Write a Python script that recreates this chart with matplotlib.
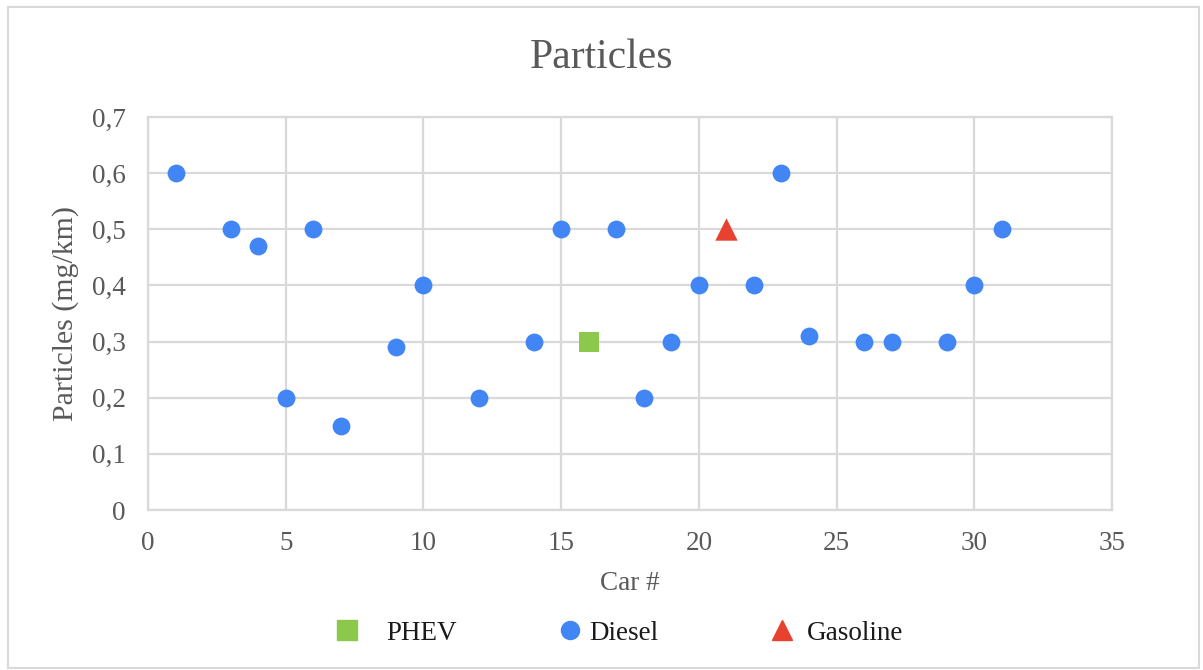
import matplotlib
matplotlib.use("Agg")
import matplotlib.pyplot as plt
from matplotlib.lines import Line2D
from matplotlib.patches import Rectangle

plt.rcParams['font.family'] = ['Liberation Serif', 'DejaVu Serif']

# Emission measurements per car
diesel_car = [1, 3, 4, 5, 6, 7, 9, 10, 12, 14, 15, 17, 18, 19, 20, 22, 23, 24, 26, 27, 29, 30, 31]
diesel_pm = [0.6, 0.5, 0.47, 0.2, 0.5, 0.15, 0.29, 0.4, 0.2, 0.3, 0.5, 0.5, 0.2, 0.3, 0.4, 0.4, 0.6, 0.31,
             0.3, 0.3, 0.3, 0.4, 0.5]
phev_car = [16]
phev_pm = [0.3]
gasoline_car = [21]
gasoline_pm = [0.5]

x_ticks = [0, 5, 10, 15, 20, 25, 30, 35]
y_ticks = [0, 0.1, 0.2, 0.3, 0.4, 0.5, 0.6, 0.7]
y_tick_labels = ['0', '0,1', '0,2', '0,3', '0,4', '0,5', '0,6', '0,7']

BLUE = '#4285f4'
GREEN = '#8cc84b'
RED = '#e8412f'
GRID = '#d9d9d9'
TEXT = '#595959'

W, H = 1203, 670
fig = plt.figure(figsize=(W / 100, H / 100), dpi=100)
fig.patch.set_facecolor('white')

# chart frame
fig.patches.append(Rectangle((8 / W, 2 / H), 1191 / W, 661 / H, transform=fig.transFigure,
                             fill=False, edgecolor=GRID, linewidth=1.5))

ax = fig.add_axes([148 / W, 1 - 510 / H, 964 / W, 393 / H])
ax.set_xlim(0, 35)
ax.set_ylim(0, 0.7)
ax.set_xticks(x_ticks)
ax.set_yticks(y_ticks)
ax.set_yticklabels(y_tick_labels)
ax.grid(True, color=GRID, linewidth=1.6)
ax.set_axisbelow(True)
for s in ax.spines.values():
    s.set_color(GRID)
    s.set_linewidth(1.6)
ax.tick_params(length=0, labelsize=19.5, labelcolor=TEXT)
ax.tick_params(axis='x', pad=15)
ax.tick_params(axis='y', pad=16)

ax.scatter(diesel_car, diesel_pm, s=165, marker='o', color=BLUE, linewidths=0, zorder=3)
ax.scatter(phev_car, phev_pm, s=205, marker='s', color=GREEN, linewidths=0, zorder=3)
ax.scatter(gasoline_car, gasoline_pm, s=260, marker='^', color=RED, linewidths=0, zorder=3)

ax.set_xlabel('Car #', fontsize=19.5, color=TEXT, labelpad=11)
ax.set_ylabel('Particles (mg/km)', fontsize=21.5, color=TEXT, labelpad=9)

fig.text(0.5, 1 - 58 / H, 'Particles', ha='center', va='center', fontsize=30, color=TEXT)

# legend entries laid out across the bottom
FS = 19.5
fs_px = FS * 100 / 72
hl = 1.2
entries = [
    (Line2D([], [], marker='s', color=GREEN, linestyle='none', markersize=14), 'PHEV', 347, 0.84),
    (Line2D([], [], marker='o', color=BLUE, linestyle='none', markersize=13), 'Diesel', 570, 0.12),
    (Line2D([], [], marker='^', color=RED, linestyle='none', markersize=15), 'Gasoline', 782, 0.3),
]
for handle, label, xm, pad in entries:
    x0 = (xm - hl * fs_px / 2) / W
    fig.legend([handle], [label], loc='center left', bbox_to_anchor=(x0, 1 - 633 / H),
               frameon=False, fontsize=FS, handletextpad=pad, handlelength=hl,
               borderpad=0, borderaxespad=0, labelcolor='#1a1a1a')

fig.savefig('out.png', dpi=100, facecolor='white')
